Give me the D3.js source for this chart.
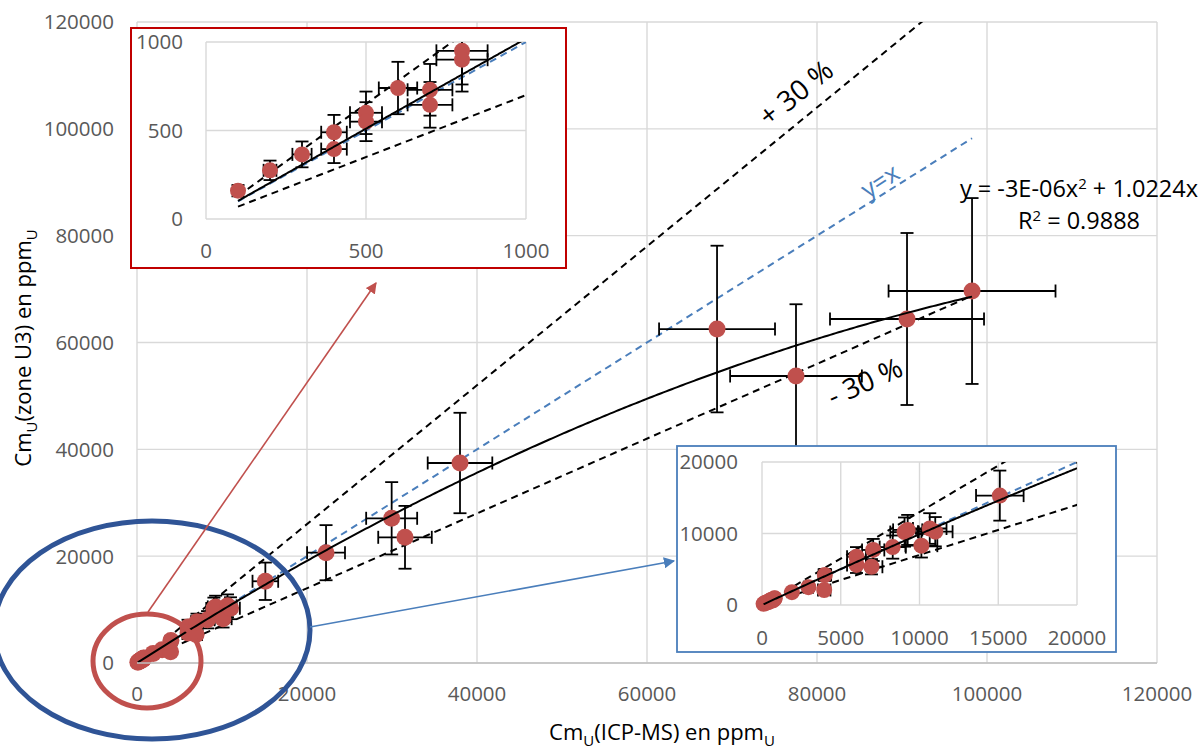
<!DOCTYPE html>
<html><head><meta charset="utf-8">
<script src="https://cdn.jsdelivr.net/npm/d3@7"></script>
<style>body{margin:0;background:#fff}svg{display:block}text{font-family:"Open Sans",sans-serif}</style>
</head><body><svg id="c" width="1201" height="749"></svg>
<script>
// ---- data ----
const cmICP = [100,200,300,400,400,500,500,600,700,700,800,800,
  1900,2950,3950,3990,6000,6000,6950,7060,8300,9050,9250,10120,10650,11000,15100,
  22240,29960,31530,38000,68240,77530,90590,98240];
const cmU3 = [160,275,365,490,395,600,550,740,730,645,950,900,
  1800,2500,2100,4200,6750,5600,5350,7700,8100,10200,10500,8300,10700,10250,15300,
  20650,27090,23530,37440,62520,53730,64400,69640];
const errICP = [10,20,30,40,40,50,50,60,70,70,80,80,
  190,295,395,400,600,600,695,706,830,905,925,1012,1065,1100,1510,
  2230,3000,3150,3800,6820,7750,9060,9820];
const errU3 = [32,55,73,98,79,120,110,148,146,129,190,180,
  360,500,420,840,1350,1120,1070,1540,1620,2040,2100,1660,2140,2050,3500,
  5160,6770,5880,9400,15600,13430,16100,17400];
const trendA = -3.3e-6, trendB = 1.0224;   // fitted polynomial
const bandFactors = [1.3, 0.7];            // +30 % / -30 %
const mainTicks = [0,20000,40000,60000,80000,100000,120000];
const redTicks = [0,500,1000];
const blueTicksX = [0,5000,10000,15000,20000];
const blueTicksY = [0,10000,20000];

const C_MARK = "#C0504D", C_GRID = "#d9d9d9", C_TICK = "#595959", C_BLUE = "#4A7EBB";

const svg = d3.select("#c");
const data = cmICP.map((x,i)=>({x, y:cmU3[i], ex:errICP[i], ey:errU3[i]}));
const xMin = d3.min(cmICP), xMax = d3.max(cmICP);

function panel(id, xs, ys, xt, yt, o) {
  const g = svg.append("g");
  const [x0,x1] = xs.range(), [y0,y1] = ys.range();
  if (o.frame) {
    g.append("rect").attr("x",o.frame[0]).attr("y",o.frame[1])
      .attr("width",o.frame[2]-o.frame[0]).attr("height",o.frame[3]-o.frame[1])
      .attr("fill","#fff").attr("stroke",o.frameColor).attr("stroke-width",o.frameWidth);
  }
  g.selectAll(null).data(xt).join("line")
    .attr("x1",d=>xs(d)).attr("x2",d=>xs(d)).attr("y1",y0).attr("y2",y1)
    .attr("stroke",C_GRID).attr("stroke-width",1.4);
  g.selectAll(null).data(yt).join("line")
    .attr("y1",d=>ys(d)).attr("y2",d=>ys(d)).attr("x1",x0).attr("x2",x1)
    .attr("stroke",C_GRID).attr("stroke-width",1.4);
  // tick labels
  g.selectAll(null).data(yt).join("text")
    .attr("x",x0-o.yLabGap).attr("y",d=>ys(d)).attr("dy","0.36em")
    .attr("text-anchor","end").attr("fill",C_TICK).attr("font-size",o.fs)
    .text(d=>d);
  g.selectAll(null).data(xt).join("text")
    .attr("x",d=>xs(d)).attr("y",y0+o.xLabGap).attr("dy","0.36em")
    .attr("text-anchor","middle").attr("fill",C_TICK).attr("font-size",o.fs)
    .text(d=>d);
  // clip
  g.append("clipPath").attr("id",id).append("rect")
    .attr("x",x0).attr("y",y1).attr("width",x1-x0).attr("height",y0-y1);
  const cg = g.append("g").attr("clip-path",`url(#${id})`);
  const line = d3.line().x(d=>xs(d[0])).y(d=>ys(d[1]));
  const hi = Math.min(xMax, xs.domain()[1]);
  // reference lines
  bandFactors.forEach(f=>{
    cg.append("path").attr("d",line([[xMin,f*xMin],[xMax,f*xMax]]))
      .attr("fill","none").attr("stroke","#000").attr("stroke-width",o.lw)
      .attr("stroke-dasharray","7,5");
  });
  cg.append("path").attr("d",line([[xMin,xMin],[xMax,xMax]]))
    .attr("fill","none").attr("stroke",C_BLUE).attr("stroke-width",o.lw)
    .attr("stroke-dasharray","7,5");
  // error bars
  const eb = cg.append("g").attr("stroke","#000").attr("stroke-width",1.8);
  const cap = 6.5;
  data.forEach(d=>{
    const px = xs(d.x), py = ys(d.y);
    const xl = xs(d.x-d.ex), xr = xs(d.x+d.ex), yt2 = ys(d.y+d.ey), yb = ys(d.y-d.ey);
    eb.append("line").attr("x1",xl).attr("x2",xr).attr("y1",py).attr("y2",py);
    eb.append("line").attr("x1",xl).attr("x2",xl).attr("y1",py-cap).attr("y2",py+cap);
    eb.append("line").attr("x1",xr).attr("x2",xr).attr("y1",py-cap).attr("y2",py+cap);
    eb.append("line").attr("x1",px).attr("x2",px).attr("y1",yt2).attr("y2",yb);
    eb.append("line").attr("x1",px-cap).attr("x2",px+cap).attr("y1",yt2).attr("y2",yt2);
    eb.append("line").attr("x1",px-cap).attr("x2",px+cap).attr("y1",yb).attr("y2",yb);
  });
  // markers
  const inDom = data.filter(d=>d.x<=xs.domain()[1] && d.y<=ys.domain()[1]);
  g.selectAll(null).data(inDom).join("circle")
    .attr("cx",d=>xs(d.x)).attr("cy",d=>ys(d.y)).attr("r",o.r).attr("fill",C_MARK);
  // fitted curve on top
  const fx = d3.range(0,301).map(i=>xMin+(hi-xMin)*i/300);
  const cg2 = g.append("g").attr("clip-path",`url(#${id})`);
  cg2.append("path").attr("d",line(fx.map(x=>[x,trendA*x*x+trendB*x])))
    .attr("fill","none").attr("stroke","#000").attr("stroke-width",o.lw);
  return g;
}

// ---- main chart ----
const xM = d3.scaleLinear([0,120000],[137,1157]);
const yM = d3.scaleLinear([0,120000],[663,22]);
panel("clipMain", xM, yM, mainTicks, mainTicks, {fs:20.5, yLabGap:23, xLabGap:31, r:8.5, lw:2});
// axis line
svg.append("line").attr("x1",137).attr("x2",1157).attr("y1",663).attr("y2",663)
  .attr("stroke","#bfbfbf").attr("stroke-width",1.5);

// annotations on main chart
function rotText(x,y,ang,txt,size,color){
  svg.append("text").attr("transform",`translate(${x},${y}) rotate(${ang})`)
    .attr("text-anchor","middle").attr("dy","0.35em").attr("font-size",size)
    .attr("fill",color).text(txt);
}
rotText(796,93,-39,"+ 30 %",28,"#000");
rotText(865,382,-24,"- 30 %",28,"#000");
rotText(880,181,-33,"y=x",25,C_BLUE);
const eq = svg.append("text").attr("x",1079).attr("y",197).attr("text-anchor","middle")
  .attr("font-size",23.5).attr("fill","#000");
eq.append("tspan").text("y = -3E-06x");
eq.append("tspan").attr("dy",-8).attr("font-size",15).text("2");
eq.append("tspan").attr("dy",8).text(" + 1.0224x");
const r2 = svg.append("text").attr("x",1079).attr("y",229).attr("text-anchor","middle")
  .attr("font-size",23.5).attr("fill","#000");
r2.append("tspan").text("R");
r2.append("tspan").attr("dy",-8).attr("font-size",15).text("2");
r2.append("tspan").attr("dy",8).text(" = 0.9888");

// axis titles
const xt = svg.append("text").attr("x",662).attr("y",740).attr("text-anchor","middle")
  .attr("font-size",22).attr("fill","#000");
xt.append("tspan").text("Cm");
xt.append("tspan").attr("dy",6).attr("font-size",15).text("U");
xt.append("tspan").attr("dy",-6).text("(ICP-MS) en ppm");
xt.append("tspan").attr("dy",6).attr("font-size",15).text("U");
const yt = svg.append("text").attr("transform","translate(31,348) rotate(-90)").attr("text-anchor","middle")
  .attr("font-size",22).attr("fill","#000");
yt.append("tspan").text("Cm");
yt.append("tspan").attr("dy",6).attr("font-size",15).text("U");
yt.append("tspan").attr("dy",-6).text("(zone U3) en ppm");
yt.append("tspan").attr("dy",6).attr("font-size",15).text("U");

// ---- insets ----
const xR = d3.scaleLinear([0,1000],[206,526]);
const yR = d3.scaleLinear([0,1000],[219,42]);
panel("clipRed", xR, yR, redTicks, redTicks, {fs:20.5, yLabGap:23, xLabGap:32, r:8, lw:2,
  frame:[131,28,566,268], frameColor:"#C00000", frameWidth:2});
const xB = d3.scaleLinear([0,20000],[762,1077]);
const yB = d3.scaleLinear([0,20000],[605,462]);
panel("clipBlue", xB, yB, blueTicksX, blueTicksY, {fs:20.5, yLabGap:24, xLabGap:33, r:8, lw:2,
  frame:[677,446,1116,652], frameColor:C_BLUE, frameWidth:1.8});

// ---- highlight shapes & arrows ----
svg.append("ellipse").attr("cx",152).attr("cy",630).attr("rx",158).attr("ry",109)
  .attr("fill","none").attr("stroke","#2F5496").attr("stroke-width",5);
svg.append("ellipse").attr("cx",147).attr("cy",661).attr("rx",54).attr("ry",47)
  .attr("fill","none").attr("stroke",C_MARK).attr("stroke-width",5);
const defs = svg.append("defs");
[["arR",C_MARK],["arB",C_BLUE]].forEach(([id,c])=>{
  defs.append("marker").attr("id",id).attr("viewBox","0 0 10 10").attr("refX",9).attr("refY",5)
    .attr("markerWidth",7).attr("markerHeight",7).attr("orient","auto")
    .append("path").attr("d","M0,0L10,5L0,10z").attr("fill",c);
});
svg.append("line").attr("x1",148).attr("y1",612).attr("x2",376).attr("y2",283)
  .attr("stroke",C_MARK).attr("stroke-width",1.6).attr("marker-end","url(#arR)");
svg.append("line").attr("x1",310).attr("y1",627).attr("x2",674).attr("y2",561)
  .attr("stroke",C_BLUE).attr("stroke-width",1.6).attr("marker-end","url(#arB)");
</script></body></html>
